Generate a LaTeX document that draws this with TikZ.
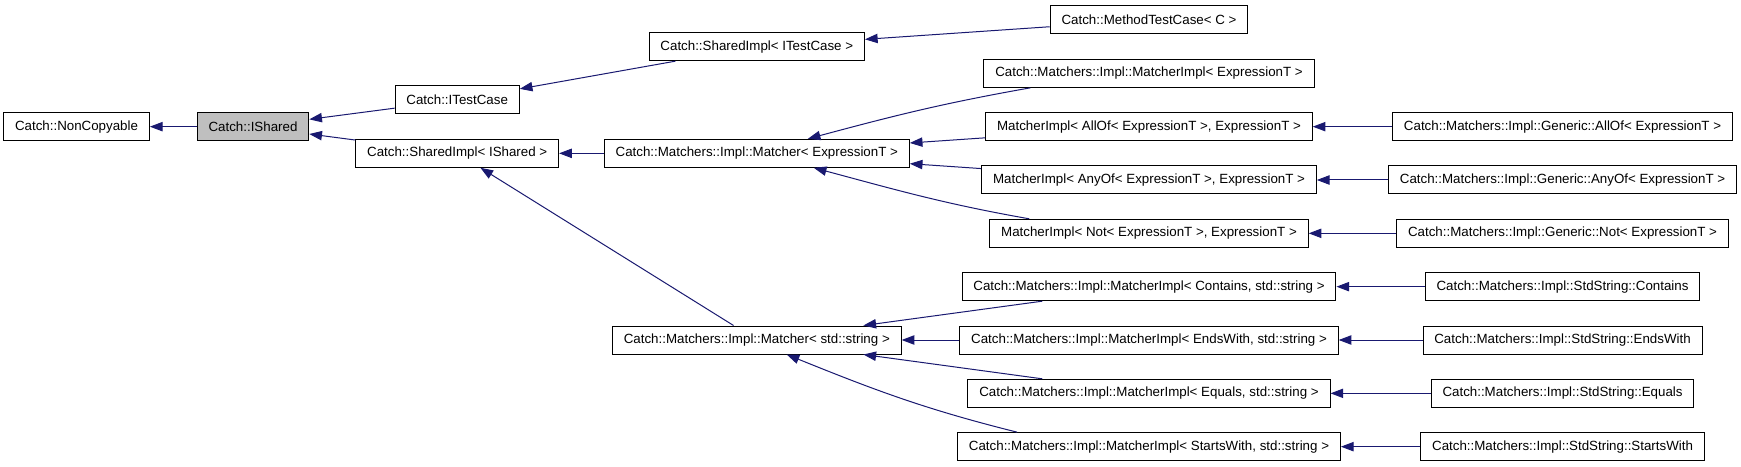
\documentclass[tikz,border=0pt]{standalone}
\usepackage{fontspec}
\setsansfont{Liberation Sans}
\usepackage{xcolor}
\usetikzlibrary{arrows.meta}
\definecolor{edgeblue}{HTML}{191970}

\begin{document}
\begin{tikzpicture}[->,>={Triangle[length=9.5pt,width=7pt]},node distance=40pt,line width=0.75pt,
    class node/.style={rectangle,draw=black,minimum height=21pt,inner xsep=8.5pt,inner ysep=0pt,font=\sffamily\fontsize{10}{12}\selectfont},
    base node/.style={class node,fill=black!25}]

            \useasboundingbox (-57.4pt,95pt) rectangle (1248.35pt,-255.25pt);

            \node[class node] (1) []{Catch::NonCopyable};
            \node[base node] (2) [right of = 1, xshift=92.35pt]{Catch::IShared};
            \node[class node] (3) [right of = 2, xshift=113.15pt, yshift=20pt]{Catch::ITestCase};
            \node[class node] (4) [below of = 3]{Catch::SharedImpl< IShared >};
            \node[class node] (5) [above of = 3, xshift=224.7pt]{Catch::SharedImpl< ITestCase >};
            \node[class node] (6) [right of = 5, xshift=254.15pt, yshift=20pt]{Catch::MethodTestCase< C >};
            \node[class node] (7) [right of = 4, xshift=184.7pt]{Catch::Matchers::Impl::Matcher< ExpressionT >};
            \node[class node] (8) [below of = 6]{Catch::Matchers::Impl::MatcherImpl< ExpressionT >};
            \node[class node] (9) [below of = 8]{MatcherImpl< AllOf< ExpressionT >, ExpressionT >};
            \node[class node] (10) [below of = 9]{MatcherImpl< AnyOf< ExpressionT >, ExpressionT >};
            \node[class node] (11) [below of = 10]{MatcherImpl< Not< ExpressionT >, ExpressionT >};
            \node[class node] (12) [right of = 9, xshift=270.15pt]{Catch::Matchers::Impl::Generic::AllOf< ExpressionT >};
            \node[class node] (13) [right of = 10, xshift=270.15pt]{Catch::Matchers::Impl::Generic::AnyOf< ExpressionT >};
            \node[class node] (14) [right of = 11, xshift=270.15pt]{Catch::Matchers::Impl::Generic::Not< ExpressionT >};
            \node[class node] (15) [below of = 7, yshift=-100pt]{Catch::Matchers::Impl::Matcher< std::string >};
            \node[class node] (16) [below of = 11]{Catch::Matchers::Impl::MatcherImpl< Contains, std::string >};
            \node[class node] (17) [below of = 16]{Catch::Matchers::Impl::MatcherImpl< EndsWith, std::string >};
            \node[class node] (18) [below of = 17]{Catch::Matchers::Impl::MatcherImpl< Equals, std::string >};
            \node[class node] (19) [below of = 18]{Catch::Matchers::Impl::MatcherImpl< StartsWith, std::string >};
            \node[class node] (20) [right of = 16, xshift=270.15pt]{Catch::Matchers::Impl::StdString::Contains};
            \node[class node] (21) [right of = 17, xshift=270.15pt]{Catch::Matchers::Impl::StdString::EndsWith};
            \node[class node] (22) [right of = 18, xshift=270.15pt]{Catch::Matchers::Impl::StdString::Equals};
            \node[class node] (23) [right of = 19, xshift=270.15pt]{Catch::Matchers::Impl::StdString::StartsWith};

            \path[every edge/.style={draw=edgeblue}]
                (2) edge (1)
                (3) edge (2)
                (4) edge (2)
                (5) edge (3)
                (6) edge (5)
                (7) edge (4)
                (15) edge (4)
                ([xshift=35.25pt]8.south west) edge[out=190, in=15] ([xshift=-76.5pt]7.north east)
                (9) edge (7)
                (10) edge (7)
                ([xshift=30pt]11.north west) edge[out=170, in=-15] ([xshift=-72pt]7.south east)
                (12) edge (9)
                (13) edge (10)
                (14) edge (11)
                (16) edge (15)
                (17) edge (15)
                (18) edge (15)
                ([xshift=45pt]19.north west) edge[out=166, in=-22] ([xshift=-86.25pt]15.south east)
                (20) edge (16)
                (21) edge (17)
                (22) edge (18)
                (23) edge (19)
            ;
        \end{tikzpicture}
\end{document}
